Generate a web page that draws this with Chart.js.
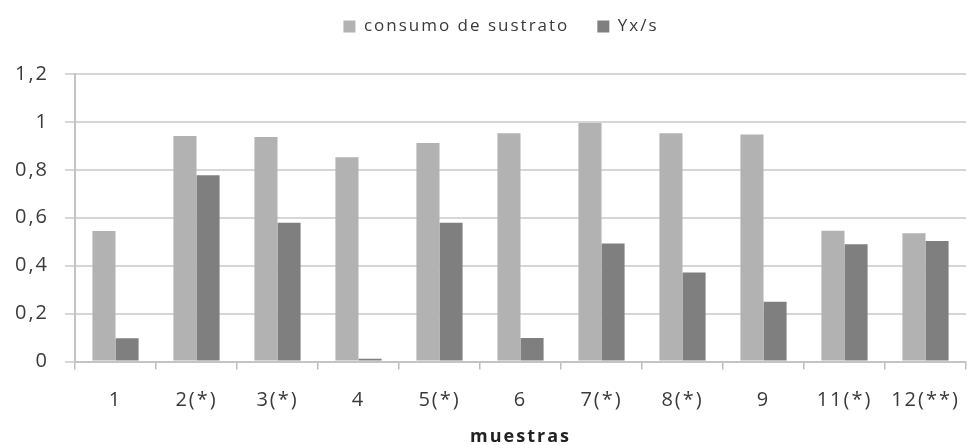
<!DOCTYPE html>
<html>
<head>
<meta charset="utf-8">
<script src="https://cdn.jsdelivr.net/npm/chart.js@4"></script>
<style>
  html, body { margin: 0; padding: 0; background: #ffffff; }
  #wrap { width: 967px; height: 445px; position: relative; }
</style>
</head>
<body>
<div id="wrap"><canvas id="c" width="967" height="445"></canvas></div>
<script>
// Muestras analizadas
const categories = ['1', '2(*)', '3(*)', '4', '5(*)', '6', '7(*)', '8(*)', '9', '11(*)', '12(**)'];
// Fracción de sustrato consumido
const consumoSustrato = [0.545, 0.941, 0.937, 0.853, 0.912, 0.953, 0.995, 0.953, 0.948, 0.546, 0.535];
// Rendimiento biomasa / sustrato
const yxs = [0.097, 0.777, 0.579, 0.012, 0.579, 0.098, 0.493, 0.371, 0.249, 0.489, 0.503];
// Marcas del eje vertical
const yTicks = [0, 0.2, 0.4, 0.6, 0.8, 1, 1.2];

const FONT = "'Open Sans', 'Liberation Sans', sans-serif";
const TEXT = '#3a3a3a';

// Espacio extra bajo la leyenda y posición final de la leyenda
const legendSpacer = {
  id: 'legendSpacer',
  beforeInit(chart) {
    const fit = chart.legend.fit;
    chart.legend.fit = function () {
      fit.bind(chart.legend)();
      this.height += 32;
    };
  },
  afterLayout(chart) {
    const lg = chart.legend;
    lg.left += 18; lg.right += 18;
    lg.top += 3; lg.bottom += 3;
  }
};

// Texto algo más espaciado
const spacing = {
  id: 'spacing',
  beforeUpdate(chart) { chart.ctx.letterSpacing = '2px'; },
  beforeDraw(chart) { chart.ctx.letterSpacing = '2px'; }
};

new Chart(document.getElementById('c'), {
  type: 'bar',
  data: {
    labels: categories,
    datasets: [
      { label: 'consumo de sustrato', data: consumoSustrato, backgroundColor: '#b2b2b2' },
      { label: 'Yx/s', data: yxs, backgroundColor: '#7f7f7f' }
    ]
  },
  options: {
    responsive: false,
    animation: false,
    devicePixelRatio: 1,
    layout: { padding: { left: 0, right: 1, top: -13, bottom: 0 } },
    datasets: { bar: { categoryPercentage: 0.57, barPercentage: 1.0 } },
    plugins: {
      tooltip: { enabled: false },
      legend: {
        position: 'top',
        align: 'center',
        labels: {
          boxWidth: 12,
          boxHeight: 12,
          padding: 28,
          color: TEXT,
          font: { family: FONT, size: 17 }
        }
      }
    },
    scales: {
      x: {
        grid: { drawOnChartArea: false, offset: true, tickLength: 8, color: '#bdbdbd', lineWidth: 1.5 },
        border: { color: '#c4c4c4', width: 2 },
        ticks: { color: TEXT, padding: 19, font: { family: FONT, size: 20 }, maxRotation: 0 },
        title: {
          display: true,
          text: 'muestras',
          color: '#222222',
          font: { family: FONT, size: 18, weight: 'bold' },
          padding: { top: 0, bottom: -3 }
        },
        afterFit(scale) {
          scale.height = 83.5;
          scale.paddingLeft = 0;
          scale.paddingRight = 0;
        }
      },
      y: {
        min: 0,
        max: 1.2,
        afterBuildTicks(scale) { scale.ticks = yTicks.map(v => ({ value: v })); },
        grid: { color: '#d6d6d6', lineWidth: 2, tickLength: 10 },
        border: { color: '#c4c4c4', width: 2 },
        ticks: {
          color: TEXT,
          padding: 16,
          font: { family: FONT, size: 20 },
          callback: v => String(v).replace('.', ',')
        },
        afterFit(scale) { scale.width = 75; }
      }
    }
  },
  plugins: [legendSpacer, spacing]
});
</script>
</body>
</html>
